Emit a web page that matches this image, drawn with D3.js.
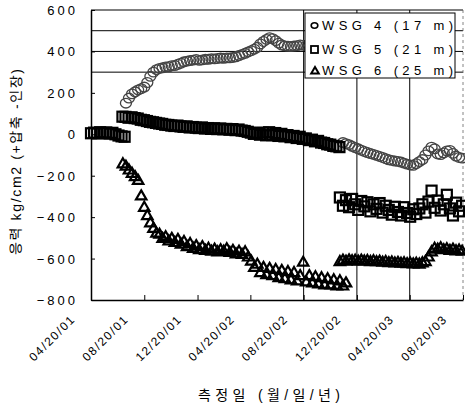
<!DOCTYPE html>
<html lang="ko">
<head>
<meta charset="UTF-8">
<title>WSG 응력</title>
<script src="https://d3js.org/d3.v7.min.js"></script>
<style>
  body { margin: 0; background: #fff; }
  text { font-family: "Liberation Sans", Arial, "Noto Sans CJK KR", sans-serif; fill: #000; }
</style>
</head>
<body>
<svg id="chart" width="465" height="403"></svg>
<script>
// tick labels (month/day/year)
const tickLabels = ["04/20/01", "08/20/01", "12/20/01", "04/20/02", "08/20/02", "12/20/02", "04/20/03", "08/20/03"];
const yTicks = [600, 400, 200, 0, -200, -400, -600, -800];
const gridValues = [500, 400, 300];
const gridDates = ["08/20/02", "12/20/02", "04/20/03"];

// readings, one per week from the start date of each run
const wsg4aStart = "07/09/01";
const wsg4a = [150, 175, 195, 205, 214, 220, 228, 250, 280, 300, 312, 318, 321, 325, 326, 331, 332, 338, 343, 350,
  353, 356, 358, 361, 357, 359, 362, 362, 365, 364, 366, 368, 367, 369, 369, 371, 374, 380, 386, 391,
  398, 404, 411, 420, 436, 448, 458, 466, 462, 452, 440, 431, 427, 425, 424, 426, 428, 431, 430, 428, 428];
const wsg4bStart = "11/18/02";
const wsg4b = [-40, -45, -50, -58, -64, -70, -77, -83, -88, -93, -97, -102, -107, -112, -118, -123, -126, -129, -131, -134,
  -139, -144, -148, -150, -142, -132, -122, -100, -80, -62, -70, -95, -98, -90, -80, -78, -92, -105, -112, -115];

const wsg5aStart = "04/20/01";
const wsg5a = [5, 8, 4, 10, 6, 9, 3, 7, 0, -6, -10, -12];
const wsg5bStart = "07/01/01";
const wsg5b = [85, 84, 80, 82, 78, 76, 70, 68, 64, 60, 58, 55, 52, 50, 46, 45, 42, 40, 42, 38,
  36, 38, 33, 35, 32, 30, 33, 28, 30, 26, 29, 25, 28, 24, 26, 22, 25, 20, 23, 18,
  16, 12, 8, 2, 6, -2, 8, -5, 10, -4, 6, -8, 2, -10, -4, -14, -8, -18, -12, -22,
  -20, -28, -26, -34, -32, -40, -42, -48, -50, -56, -58, -62];
const wsg5cStart = "11/11/02";
const wsg5c = [-305, -345, -318, -352, -312, -338, -365, -322, -348, -328, -372, -338, -360, -332, -378, -345, -365, -388, -350, -375,
  -392, -352, -380, -398, -362, -385, -358, -338, -378, -325, -272, -355, -320, -368, -338, -292, -358, -392, -330, -372, -345];

const wsg6aStart = "07/02/01";
const wsg6a = [-140, -152, -170, -186, -202, -220, -295, -350, -390, -425, -452, -475, -480, -500, -492, -512, -500, -520, -505, -528,
  -515, -540, -525, -548, -535, -555, -540, -558, -548, -562, -552, -565, -555, -562, -550, -568, -558, -575, -562, -578,
  -565, -590, -610, -640, -625, -665, -640, -675, -645, -680, -650, -690, -655, -695, -660, -700, -665, -705, -680, -615,
  -710, -680, -715, -685, -720, -690, -725, -695, -725, -700, -730, -705, -730, -715];
const wsg6bStart = "11/11/02";
const wsg6b = [-612, -605, -610, -604, -608, -606, -610, -605, -609, -607, -612, -608, -613, -610, -615, -612, -617, -614, -619, -616,
  -620, -618, -622, -619, -623, -620, -624, -618, -612, -590, -565, -548, -552, -545, -555, -550, -558, -552, -560, -556, -562];

const legendLabels = ["WSG 4 (17 m)", "WSG 5 (21 m)", "WSG 6 (25 m)"];

const parse = d3.timeParse("%m/%d/%y");
function run(start, values) {
  const d0 = parse(start);
  return values.map((v, i) => ({ date: d3.timeDay.offset(d0, 7 * i), value: v }));
}
const wsg4 = run(wsg4aStart, wsg4a).concat(run(wsg4bStart, wsg4b));
const wsg5 = run(wsg5aStart, wsg5a).concat(run(wsg5bStart, wsg5b), run(wsg5cStart, wsg5c));
const wsg6 = run(wsg6aStart, wsg6a).concat(run(wsg6bStart, wsg6b));

const svg = d3.select("#chart");
const plotL = 91, plotR = 463, plotT = 10, plotB = 300;

const x = d3.scaleTime()
  .domain([parse(tickLabels[0]), parse(tickLabels[tickLabels.length - 1])])
  .range([plotL, plotR]);
const y = d3.scaleLinear().domain([-800, 600]).range([plotB, plotT]);

// grid lines
svg.append("g").selectAll("line").data(gridValues).join("line")
  .attr("x1", plotL).attr("x2", plotR)
  .attr("y1", d => y(d)).attr("y2", d => y(d))
  .attr("stroke", "#000").attr("stroke-width", 1);
svg.append("g").selectAll("line").data(gridDates).join("line")
  .attr("x1", d => x(parse(d))).attr("x2", d => x(parse(d)))
  .attr("y1", plotT).attr("y2", plotB)
  .attr("stroke", "#000").attr("stroke-width", 1);

// frame
svg.append("line").attr("x1", plotL).attr("x2", plotR).attr("y1", plotT).attr("y2", plotT)
  .attr("stroke", "#000").attr("stroke-width", 1.2);
svg.append("line").attr("x1", plotR).attr("x2", plotR).attr("y1", plotT).attr("y2", plotB)
  .attr("stroke", "#666").attr("stroke-width", 0.8).attr("stroke-dasharray", "3,3");

// markers
const ptsG = svg.append("g");
ptsG.selectAll("ellipse").data(wsg4).join("ellipse")
  .attr("cx", d => x(d.date)).attr("cy", d => y(d.value))
  .attr("rx", 5.5).attr("ry", 4.8)
  .attr("fill", "none").attr("stroke", "#444").attr("stroke-width", 1.3);
ptsG.selectAll("rect").data(wsg5).join("rect")
  .attr("x", d => x(d.date) - 5).attr("y", d => y(d.value) - 5)
  .attr("width", 10).attr("height", 10)
  .attr("fill", "none").attr("stroke", "#000").attr("stroke-width", 2.2);
const tri = "M0,-5L5.2,4L-5.2,4Z";
ptsG.selectAll("path").data(wsg6).join("path")
  .attr("transform", d => `translate(${x(d.date)},${y(d.value)})`)
  .attr("d", tri)
  .attr("fill", "none").attr("stroke", "#000").attr("stroke-width", 2.2);

// axes
const xAxis = svg.append("g").attr("transform", `translate(0,${plotB})`)
  .call(d3.axisBottom(x).tickValues(tickLabels.map(parse)).tickSizeInner(-5).tickSizeOuter(0).tickFormat(""));
xAxis.select(".domain").attr("stroke-width", 1.5);
const yAxis = svg.append("g").attr("transform", `translate(${plotL},0)`)
  .call(d3.axisLeft(y).tickValues(yTicks).tickSizeInner(-4).tickSizeOuter(0).tickFormat(""));
yAxis.select(".domain").attr("stroke-width", 1.5);

// y tick labels
svg.append("g").selectAll("text").data(yTicks).join("text")
  .attr("x", 78).attr("y", d => y(d) + 5)
  .attr("text-anchor", "end")
  .style("font-size", "13px").style("letter-spacing", "3px")
  .text(d => (d < 0 ? "\u2212" + Math.abs(d) : d));

// x tick labels, rotated
svg.append("g").selectAll("text").data(tickLabels).join("text")
  .attr("transform", d => `translate(${x(parse(d)) - 16},${321}) rotate(-45)`)
  .attr("text-anchor", "end")
  .attr("textLength", 58).attr("lengthAdjust", "spacing")
  .style("font-size", "12px")
  .text(d => d);

// axis titles
svg.append("text")
  .attr("transform", "translate(21,162) rotate(-89.9)")
  .attr("text-anchor", "middle")
  .attr("textLength", 186).attr("lengthAdjust", "spacing")
  .style("font-size", "14px")
  .text("응력 kg/cm2 (+압축 -인장)");
svg.append("text")
  .attr("x", 269).attr("y", 400)
  .attr("text-anchor", "middle")
  .attr("textLength", 142).attr("lengthAdjust", "spacing")
  .style("font-size", "14px")
  .text("측정일 (월/일/년)");

// legend
const lg = svg.append("g");
lg.append("rect").attr("x", 305).attr("y", 13).attr("width", 150).attr("height", 65)
  .attr("fill", "#fff").attr("stroke", "#000").attr("stroke-width", 1);
const rowsY = [30, 54, 75];
lg.append("ellipse").attr("cx", 314.5).attr("cy", rowsY[0] - 4.5).attr("rx", 3.3).attr("ry", 2.7)
  .attr("fill", "none").attr("stroke", "#000").attr("stroke-width", 1.6);
lg.append("rect").attr("x", 311).attr("y", rowsY[1] - 8).attr("width", 7).attr("height", 7)
  .attr("fill", "none").attr("stroke", "#000").attr("stroke-width", 1.8);
lg.append("path").attr("transform", `translate(315,${rowsY[2] - 4.5})`)
  .attr("d", "M0,-3.6L3.8,3L-3.8,3Z")
  .attr("fill", "none").attr("stroke", "#000").attr("stroke-width", 2);
lg.selectAll("text").data(legendLabels).join("text")
  .attr("x", 322).attr("y", (d, i) => rowsY[i])
  .attr("textLength", 131).attr("lengthAdjust", "spacing")
  .style("font-size", "13px")
  .text(d => d);
</script>
</body>
</html>
